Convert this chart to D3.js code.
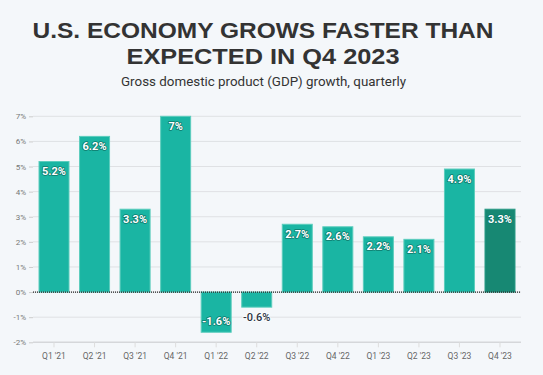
<!DOCTYPE html>
<html><head><meta charset="utf-8">
<script src="https://cdn.jsdelivr.net/npm/d3@7"></script>
<style>
html,body{margin:0;padding:0;background:#f4f7fa;}
svg{display:block;}
</style></head><body>
<svg id="c" width="543" height="375"></svg>
<script>
const quarters = ["Q1 '21","Q2 '21","Q3 '21","Q4 '21","Q1 '22","Q2 '22","Q3 '22","Q4 '22","Q1 '23","Q2 '23","Q3 '23","Q4 '23"];
const growth = [5.2, 6.2, 3.3, 7.0, -1.6, -0.6, 2.7, 2.6, 2.2, 2.1, 4.9, 3.3];
const valueLabels = ["5.2%","6.2%","3.3%","7%","-1.6%","-0.6%","2.7%","2.6%","2.2%","2.1%","4.9%","3.3%"];
const yTicks = [-2,-1,0,1,2,3,4,5,6,7];
const titleLines = ["U.S. ECONOMY GROWS FASTER THAN","EXPECTED IN Q4 2023"];
const titleWidths = [461, 273];
const subtitle = "Gross domestic product (GDP) growth, quarterly";

const svg = d3.select("#c");
svg.append("rect").attr("width",543).attr("height",375).attr("fill","#f4f7fa");

svg.selectAll("text.title").data(titleLines).join("text")
  .attr("class","title").attr("x",263).attr("y",(d,i)=>37.5+i*26.8)
  .attr("text-anchor","middle").attr("font-family","Liberation Sans, Arial, sans-serif")
  .attr("font-weight","bold").attr("font-size",21.5).attr("fill","#333")
  .attr("textLength",(d,i)=>titleWidths[i]).attr("lengthAdjust","spacingAndGlyphs")
  .text(d=>d);
svg.append("text").attr("x",263.5).attr("y",86).attr("text-anchor","middle")
  .attr("font-family","Roboto, Liberation Sans, sans-serif").attr("font-size",13).attr("fill","#333")
  .attr("textLength",285).attr("lengthAdjust","spacingAndGlyphs")
  .text(subtitle);

const x = d3.scaleBand().domain(quarters).range([33,521]).paddingInner(0.26).paddingOuter(0.148);
const y = d3.scaleLinear().domain([-2,7]).range([342.3,116.3]);

// grid
const yAxis = svg.append("g").attr("transform","translate(33,0)")
  .call(d3.axisLeft(y).tickValues(yTicks).tickFormat(d=>d+"%").tickSize(4).tickSizeOuter(0));
yAxis.select(".domain").remove();
yAxis.selectAll(".tick line").attr("stroke","#ccc");
yAxis.selectAll(".tick text").attr("font-family","Roboto, Liberation Sans, sans-serif").attr("font-size",8).attr("fill","#777").attr("x",-7);
svg.append("g").selectAll("line").data(yTicks).join("line")
  .attr("x1",33).attr("x2",521).attr("y1",d=>y(d)).attr("y2",d=>y(d))
  .attr("stroke",d=>d===-2?"#d5d7da":"#dfe1e4").attr("stroke-width",d=>d===-2?1.5:1);

const xAxis = svg.append("g").attr("transform",`translate(0,${y(-2)})`)
  .call(d3.axisBottom(x).tickSize(5).tickPadding(6).tickSizeOuter(0));
xAxis.select(".domain").remove();
xAxis.selectAll(".tick line").attr("stroke","#ddd");
xAxis.selectAll(".tick text").attr("font-family","Roboto, Liberation Sans, sans-serif").attr("font-size",8.5).attr("fill","#666");

// bars
svg.append("g").selectAll("rect").data(growth).join("rect")
  .attr("x",(d,i)=>x(quarters[i])).attr("width",x.bandwidth())
  .attr("y",d=>y(Math.max(0,d))).attr("height",d=>Math.abs(y(d)-y(0)))
  .attr("fill",(d,i)=>i===growth.length-1?"#178873":"#1ab5a3")
  .attr("stroke",(d,i)=>i===growth.length-1?"#2a9a86":"#5ccdbd").attr("stroke-width",1);

// zero line
svg.append("line").attr("x1",33).attr("x2",521).attr("y1",y(0)).attr("y2",y(0))
  .attr("stroke","#222").attr("stroke-width",1.3).attr("stroke-dasharray","1,1");

// labels
svg.append("g").selectAll("text").data(growth).join("text")
  .attr("x",(d,i)=>x(quarters[i])+x.bandwidth()/2)
  .attr("y",(d,i)=> d>=0 ? y(d)+13.5 : (d>-1 ? y(d)+14 : y(d)-7))
  .attr("text-anchor","middle").attr("font-family","Roboto, Liberation Sans, sans-serif")
  .attr("font-weight",d=>(d<0&&d>-1)?"500":"bold").attr("font-size",11)
  .attr("fill",d=>(d<0&&d>-1)?"#2a3344":"#fff")
  .attr("stroke",d=>(d<0&&d>-1)?"#fff":"#0e7a6c").attr("stroke-width",1.6).attr("paint-order","stroke")
  .attr("stroke-linejoin","round")
  .text((d,i)=>valueLabels[i]);
</script>
</body></html>
